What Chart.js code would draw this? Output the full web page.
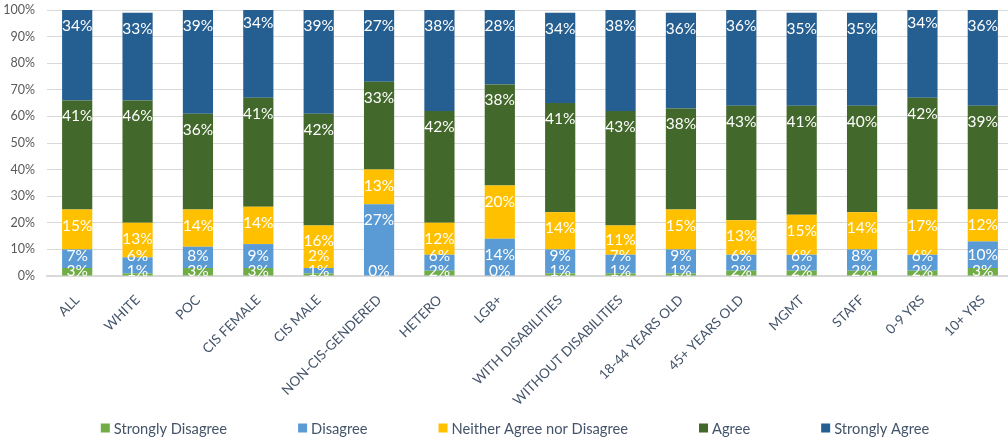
<!DOCTYPE html>
<html>
<head>
<meta charset="utf-8">
<script src="https://cdn.jsdelivr.net/npm/chart.js@4.4.1/dist/chart.umd.min.js"></script>
<style>
  html, body { margin: 0; padding: 0; background: #fff; overflow: hidden; }
  #wrap { position: relative; width: 1013px; height: 441px; }
</style>
</head>
<body>
<div id="wrap"><canvas id="chart"></canvas></div>
<script>
const groups = ['ALL', 'WHITE', 'POC', 'CIS FEMALE', 'CIS MALE', 'NON-CIS-GENDERED', 'HETERO', 'LGB+',
  'WITH DISABILITIES', 'WITHOUT DISABILITIES', '18-44 YEARS OLD', '45+ YEARS OLD', 'MGMT', 'STAFF', '0-9 YRS', '10+ YRS'];

const stronglyDisagree = [3, 1, 3, 3, 1, 0, 2, 0, 1, 1, 1, 2, 2, 2, 2, 3];
const disagree         = [7, 6, 8, 9, 2, 27, 6, 14, 9, 7, 9, 6, 6, 8, 6, 10];
const neither          = [15, 13, 14, 14, 16, 13, 12, 20, 14, 11, 15, 13, 15, 14, 17, 12];
const agree            = [41, 46, 36, 41, 42, 33, 42, 38, 41, 43, 38, 43, 41, 40, 42, 39];
const stronglyAgree    = [34, 33, 39, 34, 39, 27, 38, 28, 34, 38, 36, 36, 35, 35, 34, 36];

const yTicks = [0, 10, 20, 30, 40, 50, 60, 70, 80, 90, 100];

const FONT = 'Lato, "Open Sans", sans-serif';

// white percentage labels, near the top of each segment, pushed up when they collide
const segmentLabels = {
  id: 'segmentLabels',
  afterDatasetsDraw(chart) {
    const { ctx, chartArea } = chart;
    ctx.save();
    ctx.beginPath();
    ctx.rect(chartArea.left, chartArea.top, chartArea.right - chartArea.left, chartArea.bottom - chartArea.top);
    ctx.clip();
    ctx.font = '15.5px ' + FONT;
    ctx.fillStyle = '#ffffff';
    ctx.textAlign = 'center';
    ctx.textBaseline = 'middle';
    chart.data.labels.forEach((_, i) => {
      let prev = chartArea.bottom - 5 + 15;
      chart.data.datasets.forEach((ds, d) => {
        const bar = chart.getDatasetMeta(d).data[i];
        const top = Math.min(bar.y, bar.base);
        const base = Math.max(bar.y, bar.base);
        let y = Math.min(top + 16, (top + base) / 2);
        y = Math.min(y, prev - 15);
        prev = y;
        ctx.fillText(ds.data[i] + '%', bar.x, y);
      });
    });
    ctx.restore();
  }
};

// legend row along the bottom
const bottomLegend = {
  id: 'bottomLegend',
  afterDraw(chart) {
    const { ctx } = chart;
    const box = 9, gapText = 4, gapItem = 71, y = 428;
    ctx.save();
    ctx.font = '14.7px ' + FONT;
    ctx.textBaseline = 'middle';
    ctx.textAlign = 'left';
    const items = chart.data.datasets.map(ds => ({ text: ds.label, color: ds.backgroundColor, w: ctx.measureText(ds.label).width }));
    const total = items.reduce((s, it) => s + box + gapText + it.w, 0) + gapItem * (items.length - 1);
    let x = 515 - total / 2;
    items.forEach(it => {
      ctx.fillStyle = it.color;
      ctx.fillRect(x, y - box / 2, box, box);
      ctx.fillStyle = '#44546A';
      ctx.fillText(it.text, x + box + gapText, y + 1);
      x += box + gapText + it.w + gapItem;
    });
    ctx.restore();
  }
};

const series = [
  ['Strongly Disagree', stronglyDisagree, '#70AD47'],
  ['Disagree', disagree, '#5B9BD5'],
  ['Neither Agree nor Disagree', neither, '#FFC000'],
  ['Agree', agree, '#43682B'],
  ['Strongly Agree', stronglyAgree, '#255E91']
];

new Chart(document.getElementById('chart'), {
  type: 'bar',
  data: {
    labels: groups,
    datasets: series.map(([label, data, color]) => ({
      label: label,
      data: data,
      backgroundColor: color,
      borderWidth: 0,
      barPercentage: 1,
      categoryPercentage: 0.5
    }))
  },
  options: {
    responsive: true,
    maintainAspectRatio: false,
    animation: false,
    layout: { padding: { top: 10, right: 0, bottom: 0, left: 0 } },
    plugins: {
      legend: { display: false },
      tooltip: { enabled: false }
    },
    scales: {
      x: {
        stacked: true,
        grid: { display: false },
        border: { color: '#D9D9D9', width: 2 },
        ticks: {
          autoSkip: false,
          minRotation: 45,
          maxRotation: 45,
          padding: 8,
          color: '#44546A',
          font: { family: FONT, size: 13.5 }
        },
        afterFit: scale => { scale.height = 165; }
      },
      y: {
        stacked: true,
        min: 0,
        max: 100,
        afterBuildTicks: scale => { scale.ticks = yTicks.map(v => ({ value: v })); },
        grid: { color: '#D9D9D9', drawTicks: true, tickLength: 12, tickColor: 'rgba(0,0,0,0)' },
        border: { display: false },
        ticks: {
          padding: 0,
          color: '#595959',
          font: { family: FONT, size: 12.5 },
          callback: v => v + '%'
        },
        afterFit: scale => { scale.width = 47; }
      }
    }
  },
  plugins: [segmentLabels, bottomLegend]
});
</script>
</body>
</html>
